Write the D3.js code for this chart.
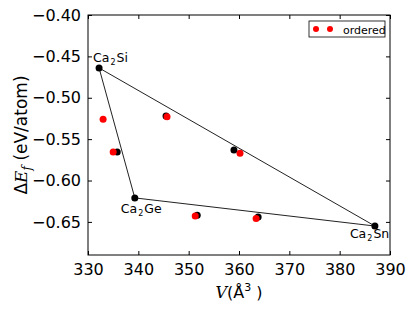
<!DOCTYPE html>
<html lang="en">
<head>
<meta charset="utf-8">
<script src="https://cdn.jsdelivr.net/npm/d3@7"></script>
<style>
  body { margin: 0; background: white; }
  text { font-family: "DejaVu Sans", sans-serif; }
</style>
</head>
<body>
<script>
// hull end points (black)
let hullNames = ["Ca2Si", "Ca2Ge", "Ca2Sn"];
let hullV = [332.2, 339.3, 387.0];
let hullE = [-0.464, -0.621, -0.655];

// other structures (black)
let blackV = [335.8, 345.5, 359.0, 351.7, 363.8];
let blackE = [-0.5655, -0.522, -0.563, -0.642, -0.644];

// ordered (red)
let redV = [333.0, 335.0, 345.7, 360.2, 351.3, 363.4];
let redE = [-0.526, -0.5655, -0.523, -0.567, -0.643, -0.646];

let xTicks = [330, 340, 350, 360, 370, 380, 390];
let yTicks = [-0.65, -0.60, -0.55, -0.50, -0.45, -0.40];

let W = 415, H = 312;
let m = {left: 88, right: 25, top: 15, bottom: 57};

let svg = d3.select("body").append("svg")
    .attr("width", W).attr("height", H);

let x = d3.scaleLinear().domain([330, 390]).range([m.left, W - m.right]);
let y = d3.scaleLinear().domain([-0.69, -0.40]).range([H - m.bottom, m.top]);

let fmtY = v => d3.format(".2f")(v).replace("-", "\u2212");

// axes, ticks inward on every side
svg.append("g").attr("transform", `translate(0,${H - m.bottom})`)
    .call(d3.axisBottom(x).tickValues(xTicks).tickSizeInner(-4).tickSizeOuter(0).tickPadding(9))
    .call(g => g.selectAll("text").attr("font-size", 16).attr("fill", "black"));
svg.append("g").attr("transform", `translate(0,${m.top})`)
    .call(d3.axisTop(x).tickValues(xTicks).tickSizeInner(-4).tickSizeOuter(0).tickFormat(""));
svg.append("g").attr("transform", `translate(${m.left},0)`)
    .call(d3.axisLeft(y).tickValues(yTicks).tickFormat(fmtY).tickSizeInner(-4).tickSizeOuter(0).tickPadding(7))
    .call(g => g.selectAll("text").attr("font-size", 16).attr("fill", "black"));
svg.append("g").attr("transform", `translate(${W - m.right},0)`)
    .call(d3.axisRight(y).tickValues(yTicks).tickSizeInner(-4).tickSizeOuter(0).tickFormat(""));
svg.selectAll(".domain").remove();
svg.selectAll(".tick line").attr("stroke", "black");

svg.append("rect")
    .attr("x", m.left).attr("y", m.top)
    .attr("width", W - m.left - m.right).attr("height", H - m.top - m.bottom)
    .attr("fill", "none").attr("stroke", "black").attr("stroke-width", 1);

// convex hull
let hull = hullV.map((v, i) => [v, hullE[i]]);
hull.push(hull[0]);
svg.append("path")
    .datum(hull)
    .attr("d", d3.line().x(d => x(d[0])).y(d => y(d[1])))
    .attr("fill", "none").attr("stroke", "#222").attr("stroke-width", 1);

// black points
svg.selectAll(".blk")
    .data(hullV.map((v, i) => [v, hullE[i]]).concat(blackV.map((v, i) => [v, blackE[i]])))
    .enter().append("circle")
    .attr("cx", d => x(d[0])).attr("cy", d => y(d[1]))
    .attr("r", 3.5).attr("fill", "black");

// red points
svg.selectAll(".red")
    .data(redV.map((v, i) => [v, redE[i]]))
    .enter().append("circle")
    .attr("cx", d => x(d[0])).attr("cy", d => y(d[1]))
    .attr("r", 3.5).attr("fill", "red");

// hull labels
let labOff = [[-6, -6], [-14, 15], [-25, 12]];
hullNames.forEach((n, i) => {
    let t = svg.append("text")
        .attr("x", x(hullV[i]) + labOff[i][0])
        .attr("y", y(hullE[i]) + labOff[i][1])
        .attr("font-size", 12.5).attr("fill", "black");
    t.append("tspan").text(n.slice(0, 2));
    t.append("tspan").text(n[2]).attr("font-size", 8).attr("dy", 3).attr("dx", 1);
    t.append("tspan").text(n.slice(3)).attr("dy", -3).attr("dx", 1);
});

// legend
let lg = svg.append("g");
lg.append("rect").attr("x", 309).attr("y", 21).attr("width", 76).attr("height", 16)
    .attr("fill", "white").attr("stroke", "black").attr("stroke-width", 0.8);
[316, 330].forEach(cx => lg.append("circle").attr("cx", cx).attr("cy", 29).attr("r", 3).attr("fill", "red"));
lg.append("text").attr("x", 343).attr("y", 33.5).attr("font-size", 11).text("ordered");

// axis labels
let yl = svg.append("text")
    .attr("transform", `translate(27,${(m.top + H - m.bottom) / 2}) rotate(-90)`)
    .attr("text-anchor", "middle").attr("font-size", 17);
yl.append("tspan").text("\u0394");
yl.append("tspan").text("E").attr("font-family", "DejaVu Serif").attr("font-style", "italic");
yl.append("tspan").text("f").attr("font-family", "DejaVu Serif").attr("font-style", "italic")
    .attr("font-size", 12).attr("dy", 4);
yl.append("tspan").text(" (eV/atom)").attr("dy", -4);

let xl = svg.append("text")
    .attr("x", 239).attr("y", 298)
    .attr("text-anchor", "middle").attr("font-size", 16);
xl.append("tspan").text("V").attr("font-family", "DejaVu Serif").attr("font-style", "italic");
xl.append("tspan").text("(\u00c5");
xl.append("tspan").text("3").attr("font-size", 11).attr("dy", -7);
xl.append("tspan").text(" )").attr("dy", 7);
</script>
</body>
</html>
